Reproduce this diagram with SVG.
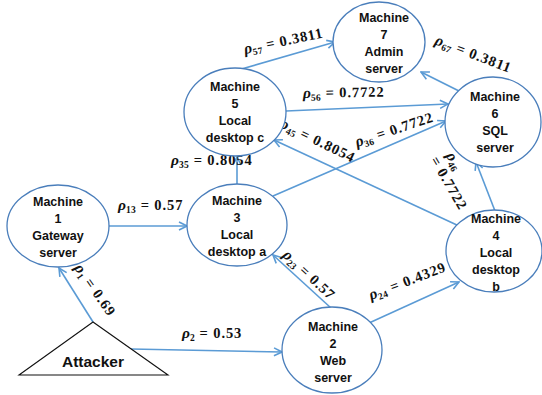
<svg xmlns="http://www.w3.org/2000/svg" width="542" height="395" viewBox="0 0 542 395">
  <defs>
    <marker id="arr" viewBox="0 0 12 12" refX="11" refY="6" markerWidth="12" markerHeight="12" markerUnits="userSpaceOnUse" orient="auto">
      <path d="M3,2 L11,6 L3,10" fill="none" stroke="#5B9BD5" stroke-width="1.6"/>
    </marker>
  </defs>
  <style>
    .node ellipse { fill: #ffffff; stroke: #4A7EBB; stroke-width: 1.3; }
    .node text { font-family: "Liberation Sans", Arial, sans-serif; font-weight: bold; font-size: 12.5px; fill: #111; text-anchor: middle; }
    .edge { fill: none; stroke: #5B9BD5; stroke-width: 1.6; marker-end: url(#arr); }
    .m { font-family: "Liberation Serif", "DejaVu Serif", serif; font-weight: bold; font-size: 14.5px; fill: #111; white-space: pre; letter-spacing: 0.9px; }
    .r { font-style: italic; font-size: 15.5px; letter-spacing: 0; }
    .s { font-size: 9.5px; letter-spacing: 0.3px; }
  </style>

  <rect width="542" height="395" fill="#ffffff"/>

  <!-- connectors -->
  <g id="connectors">
    <path class="edge" d="M93,322 L59,268"/>
    <path class="edge" d="M131,349 L282,352"/>
    <path class="edge" d="M108,226 L187,226"/>
    <path class="edge" d="M237,184 L237,157"/>
    <path class="edge" d="M273,196 L446,121"/>
    <path class="edge" d="M331,308 L273,255"/>
    <path class="edge" d="M369,323 L459,282"/>
    <path class="edge" d="M459,226 L274,140"/>
    <path class="edge" d="M495,211 L476,162"/>
    <path class="edge" d="M286,111 L448,104"/>
    <path class="edge" d="M238,70 L335,42"/>
    <path class="edge" d="M459,91 L421,72"/>
  </g>

  <!-- edge probabilities -->
  <g id="labels">
    <text class="m" transform="translate(74,268) rotate(55)"><tspan class="r">ρ</tspan><tspan class="s" dy="3">1</tspan><tspan dy="-3"> = 0.69</tspan></text>
    <text class="m" transform="translate(182,338)"><tspan class="r">ρ</tspan><tspan class="s" dy="3">2</tspan><tspan dy="-3"> = 0.53</tspan></text>
    <text class="m" transform="translate(118,210)"><tspan class="r">ρ</tspan><tspan class="s" dy="3">13</tspan><tspan dy="-3"> = 0.57</tspan></text>
    <text class="m" transform="translate(171,165)"><tspan class="r">ρ</tspan><tspan class="s" dy="3">35</tspan><tspan dy="-3"> = 0.8054</tspan></text>
    <text class="m" transform="translate(282,256) rotate(43)"><tspan class="r">ρ</tspan><tspan class="s" dy="3">23</tspan><tspan dy="-3"> = 0.57</tspan></text>
    <text class="m" transform="translate(371,300) rotate(-21)"><tspan class="r">ρ</tspan><tspan class="s" dy="3">24</tspan><tspan dy="-3"> = 0.4329</tspan></text>
    <text class="m" transform="translate(357,147) rotate(-18.5)"><tspan class="r">ρ</tspan><tspan class="s" dy="3">36</tspan><tspan dy="-3"> = 0.7722</tspan></text>
    <text class="m" transform="translate(279,127) rotate(26)"><tspan class="r">ρ</tspan><tspan class="s" dy="3">45</tspan><tspan dy="-3"> = 0.8054</tspan></text>
    <text class="m" transform="translate(303,98) rotate(-1)"><tspan class="r">ρ</tspan><tspan class="s" dy="3">56</tspan><tspan dy="-3"> = 0.7722</tspan></text>
    <text class="m" transform="translate(245,54) rotate(-12)"><tspan class="r">ρ</tspan><tspan class="s" dy="3">57</tspan><tspan dy="-3"> = 0.3811</tspan></text>
    <text class="m" transform="translate(434,44) rotate(21)"><tspan class="r">ρ</tspan><tspan class="s" dy="3">67</tspan><tspan dy="-3"> = 0.3811</tspan></text>
    <text class="m" transform="translate(430,160) rotate(60)"><tspan x="4" y="-16" class="r">ρ</tspan><tspan class="s" dy="3">46</tspan><tspan x="0" y="0">= 0.7722</tspan></text>
  </g>

  <!-- attacker -->
  <g id="attacker">
    <polygon points="93,322 19,375 168,375" fill="#ffffff" stroke="#111" stroke-width="1.1"/>
    <text x="93" y="367" font-family="Liberation Sans, Arial, sans-serif" font-weight="bold" font-size="15.5" text-anchor="middle" fill="#111">Attacker</text>
  </g>

  <!-- machines -->
  <g id="machine1" class="node">
    <ellipse cx="58" cy="226" rx="51" ry="41"/>
    <text x="58" y="206">Machine</text>
    <text x="58" y="223">1</text>
    <text x="58" y="240">Gateway</text>
    <text x="58" y="257">server</text>
  </g>
  <g id="machine2" class="node">
    <ellipse cx="332" cy="350" rx="50" ry="43"/>
    <text x="333" y="331">Machine</text>
    <text x="333" y="348">2</text>
    <text x="333" y="365">Web</text>
    <text x="333" y="382">server</text>
  </g>
  <g id="machine3" class="node">
    <ellipse cx="237" cy="225" rx="50" ry="41"/>
    <text x="237" y="205">Machine</text>
    <text x="237" y="222">3</text>
    <text x="237" y="239">Local</text>
    <text x="237" y="256">desktop a</text>
  </g>
  <g id="machine4" class="node">
    <ellipse cx="494" cy="251" rx="48" ry="41"/>
    <text x="496" y="223">Machine</text>
    <text x="496" y="240">4</text>
    <text x="496" y="257">Local</text>
    <text x="496" y="274">desktop</text>
    <text x="496" y="291">b</text>
  </g>
  <g id="machine5" class="node">
    <ellipse cx="235" cy="112" rx="51" ry="44"/>
    <text x="235" y="91">Machine</text>
    <text x="235" y="108">5</text>
    <text x="235" y="125">Local</text>
    <text x="235" y="142">desktop c</text>
  </g>
  <g id="machine6" class="node">
    <ellipse cx="493" cy="122" rx="48" ry="45"/>
    <text x="495" y="101">Machine</text>
    <text x="495" y="118">6</text>
    <text x="495" y="135">SQL</text>
    <text x="495" y="152">server</text>
  </g>
  <g id="machine7" class="node">
    <ellipse cx="379" cy="42" rx="46" ry="40"/>
    <text x="384" y="22">Machine</text>
    <text x="384" y="39">7</text>
    <text x="384" y="56">Admin</text>
    <text x="384" y="73">server</text>
  </g>
</svg>
